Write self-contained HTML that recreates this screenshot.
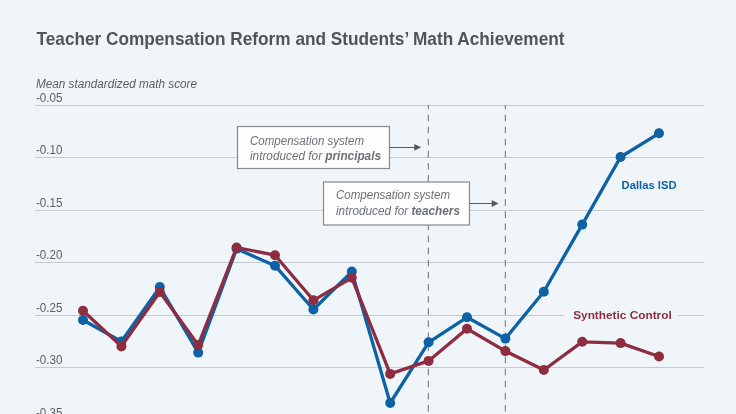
<!DOCTYPE html>
<html><head><meta charset="utf-8"><style>
html,body{margin:0;padding:0;background:#f0f5fa;}
svg{display:block;will-change:transform;font-family:"Liberation Sans",sans-serif;}
</style></head><body>
<svg width="736" height="414" viewBox="0 0 736 414">
<rect x="0" y="0" width="736" height="414" fill="#f0f5fa"/>
<text x="36.5" y="44.5" font-size="18.5" font-weight="bold" fill="#50555a" textLength="528" lengthAdjust="spacingAndGlyphs">Teacher Compensation Reform and Students’ Math Achievement</text>
<text x="36" y="87.5" font-size="12.3" font-style="italic" fill="#5b5f64" textLength="161" lengthAdjust="spacingAndGlyphs">Mean standardized math score</text>
<line x1="35" y1="105.5" x2="704" y2="105.5" stroke="#c6cacf" stroke-width="1"/>
<text x="36" y="101.7" font-size="12.2" fill="#5b5f64" textLength="26.5" lengthAdjust="spacingAndGlyphs">-0.05</text>
<line x1="35" y1="157.5" x2="704" y2="157.5" stroke="#c6cacf" stroke-width="1"/>
<text x="36" y="153.7" font-size="12.2" fill="#5b5f64" textLength="26.5" lengthAdjust="spacingAndGlyphs">-0.10</text>
<line x1="35" y1="210.5" x2="704" y2="210.5" stroke="#c6cacf" stroke-width="1"/>
<text x="36" y="206.7" font-size="12.2" fill="#5b5f64" textLength="26.5" lengthAdjust="spacingAndGlyphs">-0.15</text>
<line x1="35" y1="262.5" x2="704" y2="262.5" stroke="#c6cacf" stroke-width="1"/>
<text x="36" y="258.7" font-size="12.2" fill="#5b5f64" textLength="26.5" lengthAdjust="spacingAndGlyphs">-0.20</text>
<line x1="35" y1="315.5" x2="704" y2="315.5" stroke="#c6cacf" stroke-width="1"/>
<text x="36" y="311.7" font-size="12.2" fill="#5b5f64" textLength="26.5" lengthAdjust="spacingAndGlyphs">-0.25</text>
<line x1="35" y1="367.5" x2="704" y2="367.5" stroke="#c6cacf" stroke-width="1"/>
<text x="36" y="363.7" font-size="12.2" fill="#5b5f64" textLength="26.5" lengthAdjust="spacingAndGlyphs">-0.30</text>
<line x1="35" y1="420.5" x2="704" y2="420.5" stroke="#c6cacf" stroke-width="1"/>
<text x="36" y="416.7" font-size="12.2" fill="#5b5f64" textLength="26.5" lengthAdjust="spacingAndGlyphs">-0.35</text>

<line x1="428.3" y1="105" x2="428.3" y2="414" stroke="#6a6e73" stroke-width="1" stroke-dasharray="6.6,5.5" stroke-dashoffset="2.5"/>
<line x1="505.3" y1="105" x2="505.3" y2="414" stroke="#6a6e73" stroke-width="1" stroke-dasharray="6.6,5.5" stroke-dashoffset="2.5"/>
<rect x="237.5" y="126.5" width="152" height="42" fill="#fdfdfd" stroke="#86898d" stroke-width="1.2"/>
<text x="250" y="144.5" font-size="12.5" font-style="italic" fill="#6d7075" textLength="114" lengthAdjust="spacingAndGlyphs">Compensation system</text>
<text x="250" y="159.5" font-size="12.5" font-style="italic" fill="#6d7075" textLength="131" lengthAdjust="spacingAndGlyphs">introduced for <tspan font-weight="bold">principals</tspan></text>
<line x1="389.5" y1="147.5" x2="416" y2="147.5" stroke="#55595e" stroke-width="1"/>
<path d="M414.3,143.9 L421.2,147.3 L414.3,150.7 Z" fill="#55595e"/>
<rect x="323.5" y="182" width="146" height="43" fill="#fdfdfd" stroke="#86898d" stroke-width="1.2"/>
<text x="336" y="199" font-size="12.5" font-style="italic" fill="#6d7075" textLength="114" lengthAdjust="spacingAndGlyphs">Compensation system</text>
<text x="336" y="214.5" font-size="12.5" font-style="italic" fill="#6d7075" textLength="124" lengthAdjust="spacingAndGlyphs">introduced for <tspan font-weight="bold">teachers</tspan></text>
<line x1="469.5" y1="203.5" x2="493" y2="203.5" stroke="#55595e" stroke-width="1"/>
<path d="M491.7,200.1 L498.6,203.5 L491.7,206.9 Z" fill="#55595e"/>
<polyline points="83.0,320.0 121.4,341.5 159.8,287.1 198.2,352.6 236.6,248.8 275.0,265.7 313.4,309.5 351.8,271.6 390.2,403.0 428.6,342.3 467.0,317.3 505.4,338.6 543.8,291.7 582.2,224.6 620.6,157.0 659.0,133.3" fill="none" stroke="#0d61a5" stroke-width="3.3" stroke-linejoin="round"/>
<circle cx="83.0" cy="320.0" r="5" fill="#0d61a5"/><circle cx="121.4" cy="341.5" r="5" fill="#0d61a5"/><circle cx="159.8" cy="287.1" r="5" fill="#0d61a5"/><circle cx="198.2" cy="352.6" r="5" fill="#0d61a5"/><circle cx="236.6" cy="248.8" r="5" fill="#0d61a5"/><circle cx="275.0" cy="265.7" r="5" fill="#0d61a5"/><circle cx="313.4" cy="309.5" r="5" fill="#0d61a5"/><circle cx="351.8" cy="271.6" r="5" fill="#0d61a5"/><circle cx="390.2" cy="403.0" r="5" fill="#0d61a5"/><circle cx="428.6" cy="342.3" r="5" fill="#0d61a5"/><circle cx="467.0" cy="317.3" r="5" fill="#0d61a5"/><circle cx="505.4" cy="338.6" r="5" fill="#0d61a5"/><circle cx="543.8" cy="291.7" r="5" fill="#0d61a5"/><circle cx="582.2" cy="224.6" r="5" fill="#0d61a5"/><circle cx="620.6" cy="157.0" r="5" fill="#0d61a5"/><circle cx="659.0" cy="133.3" r="5" fill="#0d61a5"/>
<polyline points="83.0,310.7 121.4,346.4 159.8,292.0 198.2,345.0 236.6,247.5 275.0,255.2 313.4,300.3 351.8,277.8 390.2,373.9 428.6,360.9 467.0,328.8 505.4,351.1 543.8,370.0 582.2,341.8 620.6,343.1 659.0,356.5" fill="none" stroke="#8e2d40" stroke-width="3.3" stroke-linejoin="round"/>
<circle cx="83.0" cy="310.7" r="5" fill="#8e2d40"/><circle cx="121.4" cy="346.4" r="5" fill="#8e2d40"/><circle cx="159.8" cy="292.0" r="5" fill="#8e2d40"/><circle cx="198.2" cy="345.0" r="5" fill="#8e2d40"/><circle cx="236.6" cy="247.5" r="5" fill="#8e2d40"/><circle cx="275.0" cy="255.2" r="5" fill="#8e2d40"/><circle cx="313.4" cy="300.3" r="5" fill="#8e2d40"/><circle cx="351.8" cy="277.8" r="5" fill="#8e2d40"/><circle cx="390.2" cy="373.9" r="5" fill="#8e2d40"/><circle cx="428.6" cy="360.9" r="5" fill="#8e2d40"/><circle cx="467.0" cy="328.8" r="5" fill="#8e2d40"/><circle cx="505.4" cy="351.1" r="5" fill="#8e2d40"/><circle cx="543.8" cy="370.0" r="5" fill="#8e2d40"/><circle cx="582.2" cy="341.8" r="5" fill="#8e2d40"/><circle cx="620.6" cy="343.1" r="5" fill="#8e2d40"/><circle cx="659.0" cy="356.5" r="5" fill="#8e2d40"/>
<rect x="564" y="305" width="114" height="18" fill="#f0f5fa"/>
<text x="573.2" y="319.4" font-size="11.5" font-weight="bold" fill="#8e2d40" textLength="98.5" lengthAdjust="spacingAndGlyphs">Synthetic Control</text>
<text x="621.6" y="189" font-size="11.5" font-weight="bold" fill="#0d61a5" textLength="55" lengthAdjust="spacingAndGlyphs">Dallas ISD</text>
</svg>
</body></html>
